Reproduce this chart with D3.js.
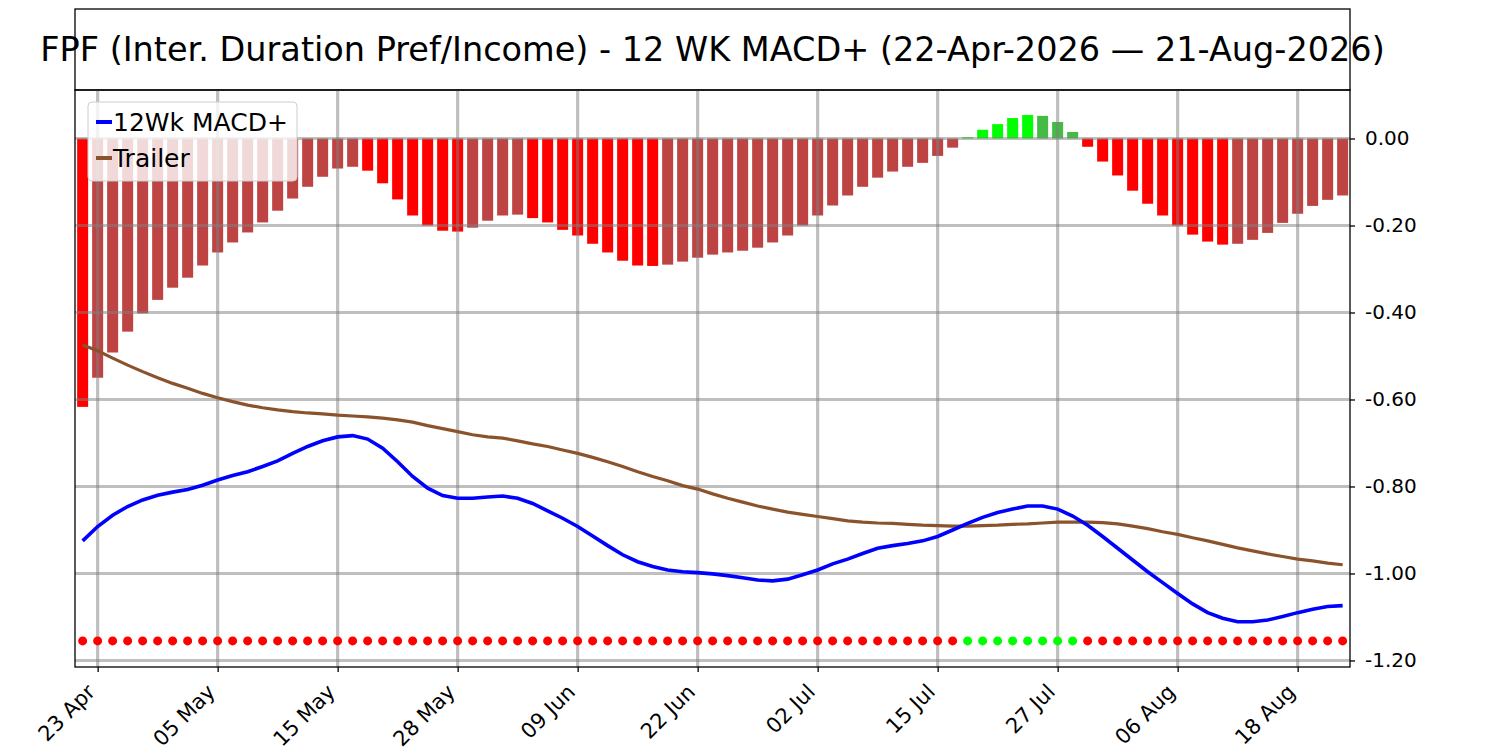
<!DOCTYPE html>
<html>
<head>
<meta charset="utf-8">
<script src="https://cdn.jsdelivr.net/npm/d3@7"></script>
<style>
    body { margin: 0; background: #fff; }
    svg, svg text { font-family: "DejaVu Sans", sans-serif; }
</style>
</head>
<body>
<svg id="chart" width="1500" height="750"></svg>
<script>
const title = 'FPF (Inter. Duration Pref/Income) - 12 WK MACD+ (22-Apr-2026 \u2014 21-Aug-2026)'

// x ticks (trading day index -> label)
const tickIdx = [1, 9, 17, 25, 33, 41, 49, 57, 65, 73, 81]
const tickLabels = ['23 Apr', '05 May', '15 May', '28 May', '09 Jun', '22 Jun', '02 Jul', '15 Jul', '27 Jul', '06 Aug', '18 Aug']
const yTicks = [0, -0.2, -0.4, -0.6, -0.8, -1.0, -1.2]

// histogram (MACD+ minus trailer), one per trading day
const hist = [
    -0.617, -0.550, -0.492, -0.444, -0.402, -0.371, -0.343, -0.320, -0.292, -0.262,
    -0.239, -0.216, -0.193, -0.166, -0.138, -0.111, -0.088, -0.069, -0.065, -0.074,
    -0.103, -0.140, -0.177, -0.200, -0.212, -0.214, -0.205, -0.189, -0.177, -0.175,
    -0.183, -0.193, -0.210, -0.223, -0.242, -0.262, -0.281, -0.292, -0.293, -0.290,
    -0.283, -0.274, -0.267, -0.262, -0.258, -0.251, -0.239, -0.223, -0.200, -0.177,
    -0.154, -0.131, -0.111, -0.090, -0.076, -0.065, -0.056, -0.040, -0.021, 0.003,
    0.020, 0.033, 0.047, 0.054, 0.052, 0.038, 0.015, -0.019, -0.053, -0.085,
    -0.120, -0.150, -0.177, -0.200, -0.221, -0.237, -0.244, -0.242, -0.233, -0.217,
    -0.194, -0.173, -0.155, -0.141, -0.131
]

const macd = [
    -0.925, -0.892, -0.866, -0.846, -0.831, -0.820, -0.813, -0.807, -0.797, -0.785,
    -0.775, -0.766, -0.754, -0.741, -0.724, -0.708, -0.695, -0.686, -0.683, -0.691,
    -0.712, -0.743, -0.777, -0.804, -0.821, -0.827, -0.827, -0.824, -0.822, -0.827,
    -0.839, -0.856, -0.873, -0.892, -0.914, -0.936, -0.957, -0.973, -0.984, -0.992,
    -0.996, -0.998, -1.001, -1.005, -1.010, -1.015, -1.017, -1.013, -1.003, -0.992,
    -0.978, -0.967, -0.954, -0.942, -0.936, -0.931, -0.925, -0.915, -0.900, -0.885,
    -0.871, -0.860, -0.852, -0.845, -0.845, -0.852, -0.868, -0.889, -0.915, -0.942,
    -0.969, -0.996, -1.021, -1.046, -1.070, -1.090, -1.103, -1.111, -1.111, -1.107,
    -1.099, -1.090, -1.082, -1.076, -1.074
]

const trailer = [
    -0.475, -0.488, -0.505, -0.521, -0.536, -0.550, -0.563, -0.574, -0.586, -0.596,
    -0.605, -0.613, -0.619, -0.624, -0.628, -0.631, -0.633, -0.636, -0.638, -0.640,
    -0.643, -0.647, -0.652, -0.660, -0.667, -0.674, -0.681, -0.686, -0.689, -0.695,
    -0.702, -0.708, -0.716, -0.724, -0.733, -0.743, -0.754, -0.766, -0.777, -0.787,
    -0.798, -0.806, -0.817, -0.827, -0.836, -0.845, -0.852, -0.859, -0.864, -0.869,
    -0.874, -0.879, -0.882, -0.884, -0.885, -0.887, -0.889, -0.890, -0.891, -0.891,
    -0.890, -0.889, -0.887, -0.886, -0.884, -0.882, -0.882, -0.882, -0.883, -0.886,
    -0.891, -0.897, -0.904, -0.910, -0.918, -0.925, -0.933, -0.941, -0.948, -0.955,
    -0.961, -0.967, -0.971, -0.976, -0.980
]

// signal dots sit on a fixed level under the lines
const dotLevel = -1.155

const svg = d3.select('#chart')

const plot = {left: 75, right: 1350, top: 90, bottom: 667}

const x = d3.scaleLinear().domain([-0.51, 84.49]).range([plot.left, plot.right])
const y = d3.scaleLinear().domain([-1.215, 0.1115]).range([plot.bottom, plot.top])

// bar colours: bright when moving away from zero, muted when coming back
const barColor = (v, i) => {
    const prev = i > 0 ? hist[i - 1] : 0
    if (v >= 0) return v >= prev ? '#00ff00' : '#44bb44'
    return v <= prev ? '#ff0000' : '#be4343'
}

// title box
svg.append('rect')
    .attr('x', plot.left).attr('y', 9)
    .attr('width', plot.right - plot.left).attr('height', plot.top - 9)
    .attr('fill', 'none').attr('stroke', '#000').attr('stroke-width', 1.3)

// histogram
svg.append('g').selectAll('rect')
    .data(hist)
    .enter()
        .append('rect')
        .attr('x', (d, i) => x(i) - 5.5)
        .attr('width', 11)
        .attr('y', d => y(Math.max(0, d)))
        .attr('height', d => Math.abs(y(d) - y(0)))
        .attr('fill', barColor)

// grid over bars
const grid = svg.append('g')
    .attr('stroke', 'gray')
    .attr('stroke-opacity', 0.5)
    .attr('stroke-width', 3.2)

grid.selectAll('line.v')
    .data(tickIdx)
    .enter()
        .append('line')
        .classed('v', true)
        .attr('x1', d => x(d)).attr('x2', d => x(d))
        .attr('y1', plot.top).attr('y2', plot.bottom)

grid.selectAll('line.h')
    .data(yTicks)
    .enter()
        .append('line')
        .classed('h', true)
        .attr('x1', plot.left).attr('x2', plot.right)
        .attr('y1', d => y(d)).attr('y2', d => y(d))

// lines
const line = d3.line()
    .x((d, i) => x(i))
    .y(d => y(d))

svg.append('path')
    .datum(trailer)
    .attr('d', line)
    .attr('fill', 'none')
    .attr('stroke', '#8b532b')
    .attr('stroke-width', 3.2)

svg.append('path')
    .datum(macd)
    .attr('d', line)
    .attr('fill', 'none')
    .attr('stroke', '#0000ff')
    .attr('stroke-width', 3.6)

// signal dots
svg.append('g').selectAll('circle')
    .data(hist)
    .enter()
        .append('circle')
        .attr('cx', (d, i) => x(i))
        .attr('cy', y(dotLevel))
        .attr('r', 4.5)
        .attr('fill', d => d > 0 ? '#00ff00' : '#ff0000')

// frame
svg.append('rect')
    .attr('x', plot.left).attr('y', plot.top)
    .attr('width', plot.right - plot.left).attr('height', plot.bottom - plot.top)
    .attr('fill', 'none').attr('stroke', '#000').attr('stroke-width', 1.3)

// title drawn over the box border, as in the original
svg.append('text')
    .attr('x', (plot.left + plot.right) / 2)
    .attr('y', 61)
    .attr('text-anchor', 'middle')
    .style('font-size', '33.5px')
    .text(title)

// right axis
const yAxis = svg.append('g')
    .attr('transform', `translate(${plot.right},0)`)
    .attr('font-family', '"DejaVu Sans", sans-serif')
    .call(d3.axisRight(y).tickValues(yTicks).tickFormat(d3.format('.2f')).tickSize(5).tickPadding(10))
yAxis.select('.domain').remove()
yAxis.selectAll('text')
    .style('font-size', '20px')
    .attr('fill', '#000')
    .text(d => d3.format('.2f')(d).replace('\u2212', '-'))
yAxis.selectAll('line').attr('stroke', '#000').attr('stroke-width', 1.3)

// bottom axis
const xAxis = svg.append('g')
    .attr('transform', `translate(0,${plot.bottom})`)
    .attr('font-family', '"DejaVu Sans", sans-serif')
    .call(d3.axisBottom(x).tickValues(tickIdx).tickFormat((d, i) => tickLabels[i]).tickSize(5))
xAxis.select('.domain').remove()
xAxis.selectAll('line').attr('stroke', '#000').attr('stroke-width', 1.3)
xAxis.selectAll('text')
    .style('font-size', '21px')
    .attr('fill', '#000')
    .attr('text-anchor', 'end')
    .attr('dy', null)
    .attr('y', 0)
    .attr('transform', 'translate(-6,22) rotate(-45)')
    .attr('dominant-baseline', 'middle')

// legend
const legend = svg.append('g')
legend.append('rect')
    .attr('x', 88).attr('y', 102)
    .attr('width', 209).attr('height', 79)
    .attr('rx', 4)
    .attr('fill', '#fff').attr('fill-opacity', 0.8)
    .attr('stroke', '#cccccc').attr('stroke-width', 1)

const legendItems = [
    {label: '12Wk MACD+', color: '#0000ff'},
    {label: 'Trailer', color: '#8b532b'}
]

const items = legend.selectAll('g.item')
    .data(legendItems)
    .enter()
        .append('g')
        .classed('item', true)
        .attr('transform', (d, i) => `translate(96,${122 + i * 36})`)

items.append('line')
    .attr('x1', 0).attr('x2', 16)
    .attr('stroke', d => d.color)
    .attr('stroke-width', 4)

items.append('text')
    .attr('x', 17)
    .attr('y', 9)
    .style('font-size', '25px')
    .text(d => d.label)
</script>
</body>
</html>
